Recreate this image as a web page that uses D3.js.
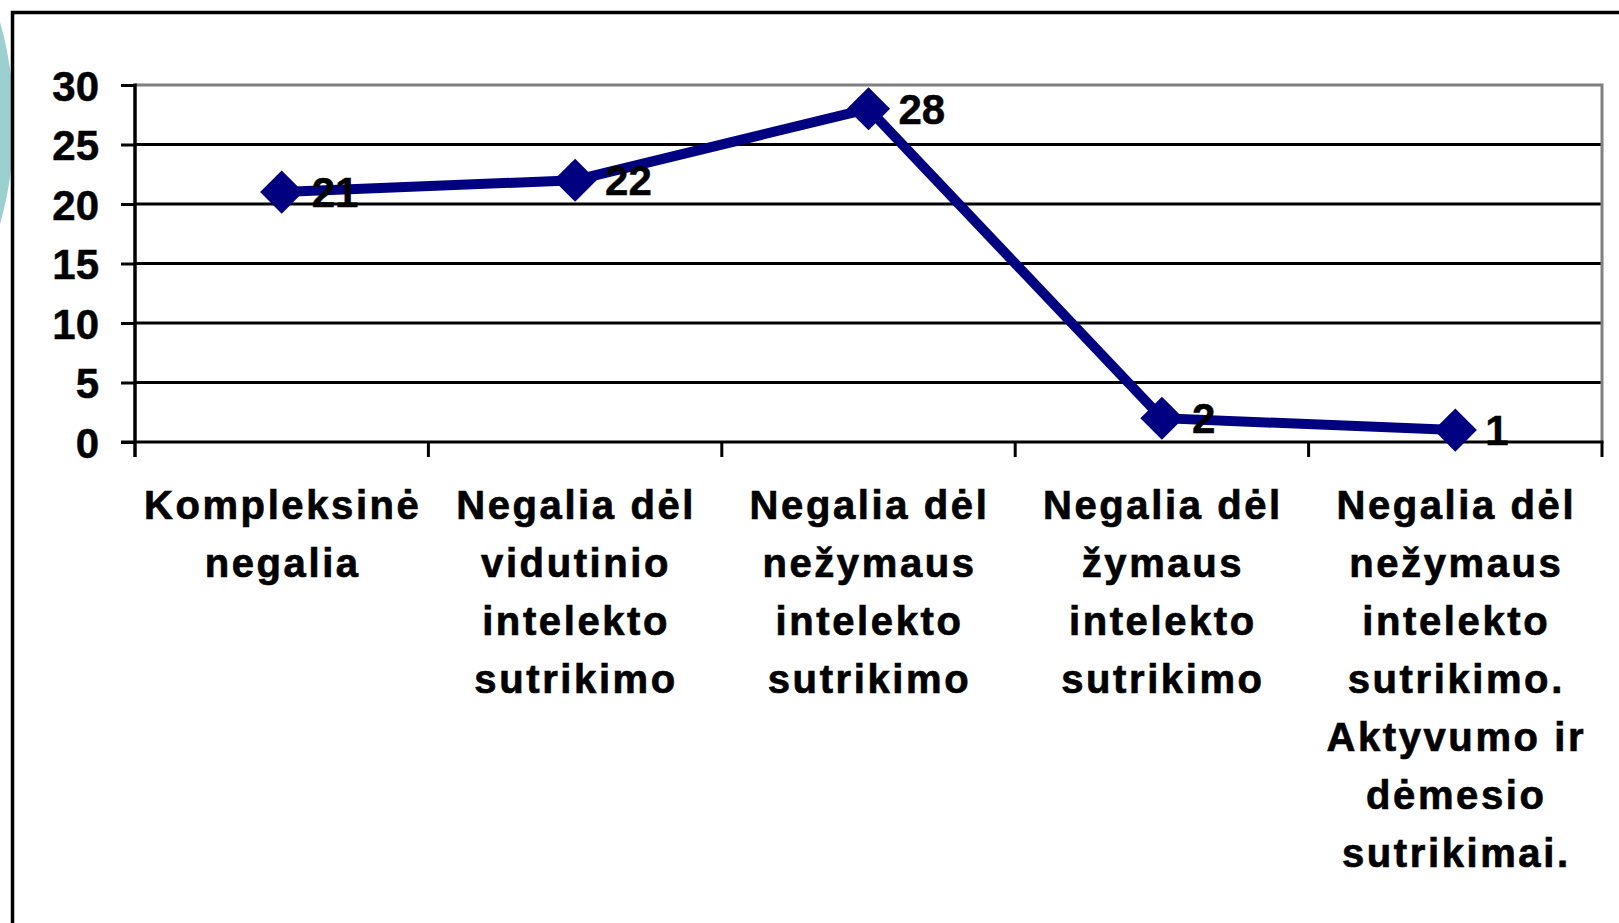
<!DOCTYPE html>
<html>
<head>
<meta charset="utf-8">
<script src="https://cdn.jsdelivr.net/npm/d3@7"></script>
<style>
  html, body { margin: 0; padding: 0; background: #fff; overflow: hidden; }
  svg { display: block; }
  text { font-family: "Liberation Sans", Arial, sans-serif; font-weight: bold; fill: #000; }
</style>
</head>
<body>
<script>
// ---- data ----
const categories = [
  "Kompleksinė negalia",
  "Negalia dėl vidutinio intelekto sutrikimo",
  "Negalia dėl nežymaus intelekto sutrikimo",
  "Negalia dėl žymaus intelekto sutrikimo",
  "Negalia dėl nežymaus intelekto sutrikimo. Aktyvumo ir dėmesio sutrikimai."
];
const categoryLines = [
  ["Kompleksinė", "negalia"],
  ["Negalia dėl", "vidutinio", "intelekto", "sutrikimo"],
  ["Negalia dėl", "nežymaus", "intelekto", "sutrikimo"],
  ["Negalia dėl", "žymaus", "intelekto", "sutrikimo"],
  ["Negalia dėl", "nežymaus", "intelekto", "sutrikimo.", "Aktyvumo ir", "dėmesio", "sutrikimai."]
];
const values = [21, 22, 28, 2, 1];
const yTicks = [0, 5, 10, 15, 20, 25, 30];

// ---- layout ----
const W = 1619, H = 923;
const plot = { left: 135, right: 1602, top: 85, bottom: 442 };

const svg = d3.select("body").append("svg").attr("width", W).attr("height", H);

// teal decorative circle on the left (mostly hidden behind the frame)
svg.append("circle").attr("cx", -360).attr("cy", 123).attr("r", 374).attr("fill", "#9ccfcf");

// outer frame
svg.append("rect")
  .attr("x", 12.5).attr("y", 12.5).attr("width", W + 20).attr("height", H + 20)
  .attr("fill", "#fff").attr("stroke", "#000").attr("stroke-width", 3.5);

const x = d3.scaleBand().domain(categories).range([plot.left, plot.right]).padding(0);
const y = d3.scaleLinear().domain([0, 30]).range([plot.bottom, plot.top]);

// gridlines
svg.append("g").selectAll("line").data(yTicks.filter(d => d > 0 && d < 30)).join("line")
  .attr("x1", plot.left).attr("x2", plot.right)
  .attr("y1", d => y(d)).attr("y2", d => y(d))
  .attr("stroke", "#000").attr("stroke-width", 3);

// plot area top & right border (gray)
svg.append("path")
  .attr("d", `M${plot.left},${y(30)}H${plot.right}V${y(0)}`)
  .attr("fill", "none").attr("stroke", "#808080").attr("stroke-width", 3);

// y axis
const yAxis = d3.axisLeft(y).tickValues(yTicks).tickSize(14).tickPadding(22).tickFormat(d3.format("d"));
const gy = svg.append("g").attr("transform", `translate(${plot.left},0)`).call(yAxis);
gy.select(".domain").remove();
gy.selectAll(".tick line").attr("stroke", "#000").attr("stroke-width", 3);
gy.selectAll(".tick text").attr("font-size", 42).attr("dy", "0.36em")
  .style("font-family", '"Liberation Sans", Arial, sans-serif').style("font-weight", "bold")
  .attr("stroke", "#000").attr("stroke-width", 0.5);
svg.append("line").attr("x1", plot.left).attr("x2", plot.left)
  .attr("y1", y(30) - 1.5).attr("y2", plot.bottom + 15)
  .attr("stroke", "#000").attr("stroke-width", 3.5);

// x axis line + boundary ticks
svg.append("line").attr("x1", plot.left - 14).attr("x2", plot.right + 1.5)
  .attr("y1", y(0)).attr("y2", y(0)).attr("stroke", "#000").attr("stroke-width", 3);
const bounds = categories.map(c => x(c)).concat([x(categories[categories.length - 1]) + x.bandwidth()]);
svg.append("g").selectAll("line").data(bounds.slice(1)).join("line")
  .attr("x1", d => d).attr("x2", d => d)
  .attr("y1", y(0)).attr("y2", y(0) + 15)
  .attr("stroke", "#000").attr("stroke-width", 3);

// category labels
const labG = svg.append("g");
categories.forEach((c, i) => {
  const xc = x(c) + x.bandwidth() / 2 + 1;
  const t = labG.append("text")
    .attr("x", xc)
    .attr("y", 519)
    .attr("text-anchor", "middle")
    .attr("font-size", 40)
    .attr("stroke", "#000").attr("stroke-width", 0.7)
    .style("letter-spacing", "2.6px");
  categoryLines[i].forEach((ln, j) => {
    t.append("tspan").attr("x", xc).attr("y", 519 + j * 58).text(ln);
  });
});

// line
const cx = c => x(c) + x.bandwidth() / 2;
const line = d3.line().x((d, i) => cx(categories[i])).y(d => y(d));
svg.append("path").datum(values).attr("d", line)
  .attr("fill", "none").attr("stroke", "#000080").attr("stroke-width", 10).attr("stroke-linejoin", "miter");

// markers (diamonds)
const sym = d3.symbol().type(d3.symbolSquare).size(930);
svg.append("g").selectAll("path").data(values).join("path")
  .attr("d", sym)
  .attr("transform", (d, i) => `translate(${cx(categories[i])},${y(d)}) rotate(45)`)
  .attr("fill", "#000080");

// data labels
svg.append("g").selectAll("text").data(values).join("text")
  .attr("x", (d, i) => cx(categories[i]) + 30)
  .attr("y", d => y(d) + 15)
  .attr("font-size", 42)
  .attr("stroke", "#000").attr("stroke-width", 0.5)
  .text(d => d);
</script>
</body>
</html>
